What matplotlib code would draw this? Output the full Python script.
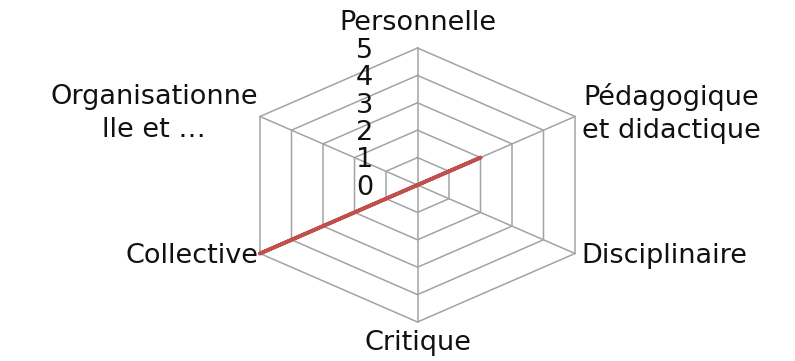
import matplotlib

matplotlib.use("Agg")

import matplotlib.pyplot as plt
import numpy as np

categories = [
    "Personnelle",
    "Pédagogique\net didactique",
    "Disciplinaire",
    "Critique",
    "Collective",
    "Organisationne\nlle et …",
]
values = [0, 2, 0, 0, 5, 0]
levels = [0, 1, 2, 3, 4, 5]

GRID = "#a3a3a3"
RED = "#c0504d"
TEXT = "#111111"
FONT = "DejaVu Sans"
SIZE = 19.5


def to_xy(radius, angle):
    return np.asarray(radius) * np.sin(angle), np.asarray(radius) * np.cos(angle)


def main() -> int:
    fig = plt.figure(figsize=(7.95, 3.61), dpi=100)
    w, h = 795, 361
    # the picture is stretched sideways, so keep the box non-square
    ax = fig.add_axes([260 / w, (361 - 322) / h, 315 / w, 274 / h])
    rmax = levels[-1]
    ax.set_xlim(-rmax * np.sin(np.pi / 3), rmax * np.sin(np.pi / 3))
    ax.set_ylim(-rmax, rmax)
    ax.set_axis_off()

    n = len(categories)
    angles = np.arange(n) * 2 * np.pi / n
    closed = np.append(angles, angles[0])

    for lev in levels[1:]:
        x, y = to_xy([lev] * (n + 1), closed)
        ax.plot(x, y, color=GRID, linewidth=1.1, clip_on=False, zorder=1)
    for ang in angles:
        x, y = to_xy([0, rmax], [ang, ang])
        ax.plot(x, y, color=GRID, linewidth=1.1, clip_on=False, zorder=1)

    x, y = to_xy(values + values[:1], closed)
    ax.plot(x, y, color=RED, linewidth=2.7, solid_capstyle="butt", clip_on=False, zorder=3)

    for lev in levels:
        ax.text(-1.22, lev - 0.1, str(lev), ha="right", va="center",
                fontsize=SIZE, color=TEXT, family=FONT, zorder=4)

    label_pos = [
        (0.0, rmax + 0.45, "center", "bottom"),
        (None, None, "left", "center"),
        (None, None, "left", "center"),
        (0.0, -rmax - 0.3, "center", "top"),
        (None, None, "right", "center"),
        (None, None, "right", "center"),
    ]
    for cat, ang, (lx, ly, ha, va) in zip(categories, angles, label_pos):
        if lx is None:
            lx, ly = to_xy(rmax, ang)
            lx = lx + (0.18 if ha == "left" else -0.05)
            ly = ly + (0.1 if "\n" in cat else -0.08)
        ax.text(lx, ly, cat, ha=ha, va=va, multialignment="center",
                fontsize=SIZE, color=TEXT, family=FONT, linespacing=1.35,
                clip_on=False)

    fig.savefig("out.png", dpi=100)
    plt.close(fig)
    return 0


if __name__ == "__main__":
    raise SystemExit(main())
